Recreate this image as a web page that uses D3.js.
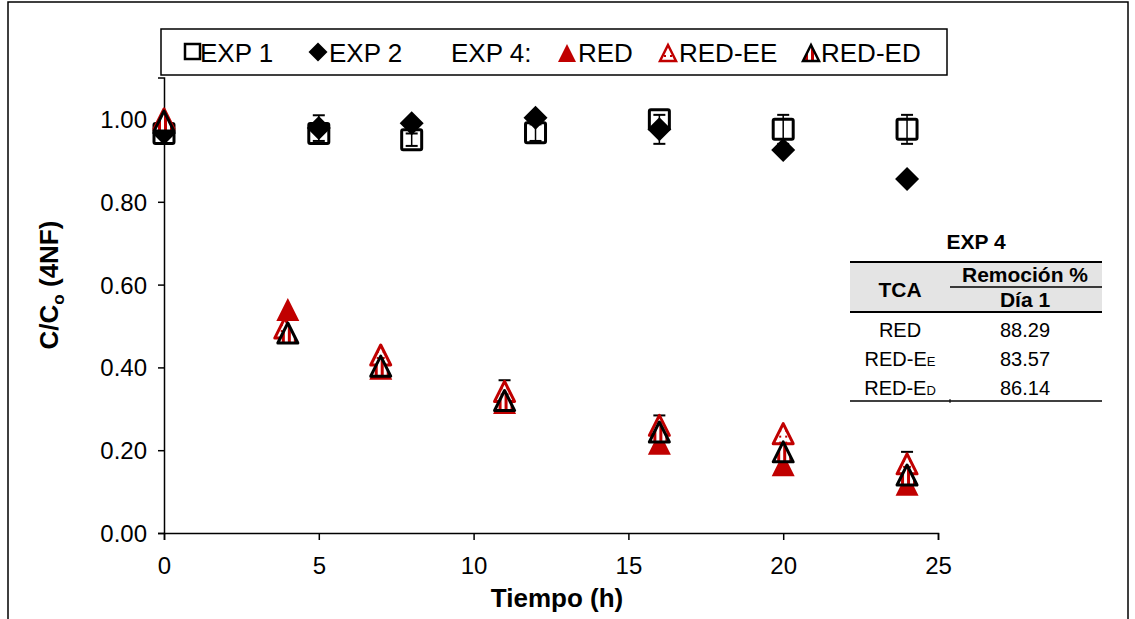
<!DOCTYPE html>
<html>
<head>
<meta charset="utf-8">
<script src="https://cdn.jsdelivr.net/npm/d3@7"></script>
<style>
  body { margin: 0; background: #fff; }
  text { font-family: "Liberation Sans", Arial, sans-serif; }
</style>
</head>
<body>
<svg id="chart" width="1135" height="619"></svg>
<script>
// ---- data ----
var exp1Time = [0, 5, 8, 12, 16, 20, 24];
var exp1Val  = [0.965, 0.965, 0.950, 0.967, 0.998, 0.975, 0.975];
var exp1Err  = [0, 0, 0.015, 0.02, 0, 0.035, 0.035];

var exp2Time = [0, 5, 8, 12, 16, 20, 24];
var exp2Val  = [0.966, 0.978, 0.99, 1.003, 0.975, 0.925, 0.855];
var exp2Err  = [0, 0.031, 0, 0, 0.035, 0, 0.01];

var redTime = [0, 4, 7, 11, 16, 20, 24];
var redVal  = [1.0, 0.54, 0.398, 0.315, 0.217, 0.165, 0.118];

var eeTime = [0, 3.9, 7, 11, 16, 20, 24];
var eeVal  = [1.0, 0.495, 0.43, 0.342, 0.26, 0.24, 0.167];
var eeErr  = [0, 0, 0, 0.027, 0.024, 0, 0.029];

var edTime = [0, 4, 7, 11, 16, 20, 24];
var edVal  = [0.995, 0.483, 0.403, 0.32, 0.244, 0.196, 0.14];

var xTicks = [0, 5, 10, 15, 20, 25];
var yTicks = [0, 0.2, 0.4, 0.6, 0.8, 1.0];

var tableRows = ["RED", "RED-E", "RED-E"];
var tableSubs = ["", "E", "D"];
var tableVals = ["88.29", "83.57", "86.14"];

var RED = "#c00000";

var svg = d3.select("#chart");

// outer frame of the chart
svg.append("rect")
    .attr("x", 8).attr("y", 2)
    .attr("width", 1120).attr("height", 700)
    .attr("fill", "none").attr("stroke", "#000").attr("stroke-width", 1.5);

// scales
var x = d3.scaleLinear().domain([0, 25]).range([164, 938]);
var y = d3.scaleLinear().domain([0, 1.1]).range([533, 533 - 1.1 * 414]);

// patterns for the open triangles
var defs = svg.append("defs");
var stripes = defs.append("pattern")
    .attr("id", "stripes").attr("patternUnits", "userSpaceOnUse")
    .attr("width", 6).attr("height", 6);
stripes.append("rect").attr("width", 6).attr("height", 6).attr("fill", "#fff");
stripes.append("rect").attr("width", 3).attr("height", 6).attr("fill", RED);

var dots = defs.append("pattern")
    .attr("id", "dots").attr("patternUnits", "userSpaceOnUse")
    .attr("width", 6).attr("height", 6);
dots.append("rect").attr("width", 6).attr("height", 6).attr("fill", "#fff");
dots.append("rect").attr("x", 2).attr("y", 2).attr("width", 2).attr("height", 2).attr("fill", RED);

// marker paths
function trianglePath(s) { return "M0," + (-s) + "L" + s + "," + s + "L" + (-s) + "," + s + "Z"; }
function diamondPath(s) { return "M0," + (-s) + "L" + s + ",0L0," + s + "L" + (-s) + ",0Z"; }

// axes
var yAxis = d3.axisLeft(y).tickValues(yTicks).tickSize(6).tickFormat(d3.format(".2f"));
var gy = svg.append("g").attr("transform", "translate(164,0)").call(yAxis);
var xAxis = d3.axisBottom(x).tickValues(xTicks).tickSize(7);
var gx = svg.append("g").attr("transform", "translate(0,533)").call(xAxis);

[gx, gy].forEach(function(g) {
    g.select(".domain").attr("stroke", "#000").attr("stroke-width", 1.5);
    g.selectAll(".tick line").attr("stroke", "#000").attr("stroke-width", 1.5);
    g.selectAll(".tick text").attr("fill", "#000").style("font-size", "24px")
        .style("font-family", "Liberation Sans, Arial, sans-serif");
});
gy.selectAll(".tick text").attr("x", -17).attr("dy", "0.35em");
gx.selectAll(".tick text").attr("y", 24).attr("dy", "0.71em");

// axis titles
svg.append("text")
    .attr("x", 557).attr("y", 607)
    .attr("text-anchor", "middle")
    .style("font-size", "26px").style("font-weight", "bold")
    .text("Tiempo (h)");

var yTitle = svg.append("text")
    .attr("transform", "translate(58,285) rotate(-90)")
    .attr("text-anchor", "middle")
    .style("font-size", "26px").style("font-weight", "bold");
yTitle.append("tspan").text("C/C");
yTitle.append("tspan").attr("dy", 6).style("font-size", "17px").text("o");
yTitle.append("tspan").attr("dy", -6).text(" (4NF)");

// error bars helper
function errorBars(times, vals, errs, color) {
    var eb = svg.append("g");
    times.forEach(function(t, i) {
        if (!errs[i]) return;
        var cx = x(t), y1 = y(vals[i] + errs[i]), y2 = y(vals[i] - errs[i]);
        eb.append("line").attr("x1", cx).attr("x2", cx).attr("y1", y1).attr("y2", y2)
            .attr("stroke", color).attr("stroke-width", 1.5);
        eb.append("line").attr("x1", cx - 6).attr("x2", cx + 6).attr("y1", y1).attr("y2", y1)
            .attr("stroke", color).attr("stroke-width", 2);
        eb.append("line").attr("x1", cx - 6).attr("x2", cx + 6).attr("y1", y2).attr("y2", y2)
            .attr("stroke", color).attr("stroke-width", 2);
    });
}

// EXP 1: open squares
errorBars(exp1Time, exp1Val, exp1Err, "#000");
svg.append("g").selectAll("rect")
    .data(exp1Time)
    .enter()
    .append("rect")
    .attr("x", function(d) { return x(d) - 10; })
    .attr("y", function(d, i) { return y(exp1Val[i]) - 10; })
    .attr("width", 20).attr("height", 20).attr("rx", 1.5)
    .attr("fill", "none").attr("stroke", "#000").attr("stroke-width", 3);

// EXP 2: filled diamonds
errorBars(exp2Time, exp2Val, exp2Err, "#000");
svg.append("g").selectAll("path")
    .data(exp2Time)
    .enter()
    .append("path")
    .attr("d", diamondPath(12))
    .attr("transform", function(d, i) { return "translate(" + x(d) + "," + y(exp2Val[i]) + ")"; })
    .attr("fill", "#000");

// EXP 4: RED filled triangles
svg.append("g").selectAll("path")
    .data(redTime)
    .enter()
    .append("path")
    .attr("d", trianglePath(11.5))
    .attr("transform", function(d, i) { return "translate(" + x(d) + "," + y(redVal[i]) + ")"; })
    .attr("fill", RED);

// EXP 4: RED-EE open red triangles
errorBars(eeTime, eeVal, eeErr, "#000");
svg.append("g").selectAll("path")
    .data(eeTime)
    .enter()
    .append("path")
    .attr("d", trianglePath(10))
    .attr("transform", function(d, i) { return "translate(" + x(d) + "," + y(eeVal[i]) + ")"; })
    .attr("fill", "url(#dots)").attr("stroke", RED).attr("stroke-width", 3)
    .attr("stroke-linejoin", "round");

// EXP 4: RED-ED open black triangles
svg.append("g").selectAll("path")
    .data(edTime)
    .enter()
    .append("path")
    .attr("d", trianglePath(10))
    .attr("transform", function(d, i) { return "translate(" + x(d) + "," + y(edVal[i]) + ")"; })
    .attr("fill", "url(#stripes)").attr("stroke", "#000").attr("stroke-width", 3)
    .attr("stroke-linejoin", "round");

// legend box
var legend = svg.append("g");
legend.append("rect")
    .attr("x", 161).attr("y", 29).attr("width", 786).attr("height", 46)
    .attr("fill", "#fff").attr("stroke", "#000").attr("stroke-width", 1.5);

var legendY = 52;
legend.append("rect").attr("x", 185).attr("y", legendY - 8).attr("width", 15).attr("height", 15)
    .attr("fill", "none").attr("stroke", "#000").attr("stroke-width", 2.5);
legend.append("path").attr("d", diamondPath(9.5))
    .attr("transform", "translate(318," + legendY + ")").attr("fill", "#000");
legend.append("path").attr("d", trianglePath(9))
    .attr("transform", "translate(567," + (legendY + 1) + ")").attr("fill", RED);
legend.append("path").attr("d", trianglePath(8))
    .attr("transform", "translate(668," + (legendY + 1) + ")")
    .attr("fill", "url(#dots)").attr("stroke", RED).attr("stroke-width", 2.5);
legend.append("path").attr("d", trianglePath(8))
    .attr("transform", "translate(811," + (legendY + 1) + ")")
    .attr("fill", "url(#stripes)").attr("stroke", "#000").attr("stroke-width", 2.5);

var legendLabels = [
    { x: 200, t: "EXP 1" },
    { x: 329, t: "EXP 2" },
    { x: 451, t: "EXP 4:" },
    { x: 578, t: "RED" },
    { x: 679, t: "RED-EE" },
    { x: 821, t: "RED-ED" }
];
legend.selectAll("text")
    .data(legendLabels)
    .enter()
    .append("text")
    .attr("x", function(d) { return d.x; })
    .attr("y", legendY + 10)
    .style("font-size", "26px")
    .text(function(d) { return d.t; });

// EXP 4 table
var table = svg.append("g");
table.append("rect").attr("x", 850).attr("y", 262).attr("width", 252).attr("height", 50).attr("fill", "#e4e4e4");
table.append("text").attr("x", 976).attr("y", 249).attr("text-anchor", "middle")
    .style("font-size", "21px").style("font-weight", "bold").text("EXP 4");
table.append("line").attr("x1", 850).attr("x2", 1102).attr("y1", 262).attr("y2", 262).attr("stroke", "#000").attr("stroke-width", 2);
table.append("line").attr("x1", 950).attr("x2", 1102).attr("y1", 287).attr("y2", 287).attr("stroke", "#000").attr("stroke-width", 1.5);
table.append("line").attr("x1", 850).attr("x2", 1102).attr("y1", 312).attr("y2", 312).attr("stroke", "#000").attr("stroke-width", 2);
table.append("line").attr("x1", 850).attr("x2", 1102).attr("y1", 401).attr("y2", 401).attr("stroke", "#000").attr("stroke-width", 1.5);
table.append("line").attr("x1", 950).attr("x2", 950).attr("y1", 399).attr("y2", 403).attr("stroke", "#000").attr("stroke-width", 1);

table.append("text").attr("x", 900).attr("y", 297).attr("text-anchor", "middle")
    .style("font-size", "21px").style("font-weight", "bold").text("TCA");
table.append("text").attr("x", 1025).attr("y", 282).attr("text-anchor", "middle")
    .style("font-size", "21px").style("font-weight", "bold").text("Remoción %");
table.append("text").attr("x", 1025).attr("y", 307).attr("text-anchor", "middle")
    .style("font-size", "21px").style("font-weight", "bold").text("Día 1");

var rowY = d3.scalePoint().domain(d3.range(tableRows.length)).range([337, 395]);
tableRows.forEach(function(r, i) {
    var t = table.append("text").attr("x", 900).attr("y", rowY(i)).attr("text-anchor", "middle")
        .style("font-size", "20px");
    t.append("tspan").text(r);
    if (tableSubs[i]) t.append("tspan").style("font-size", "13px").text(tableSubs[i]);
    table.append("text").attr("x", 1025).attr("y", rowY(i)).attr("text-anchor", "middle")
        .style("font-size", "20px").text(tableVals[i]);
});
</script>
</body>
</html>
